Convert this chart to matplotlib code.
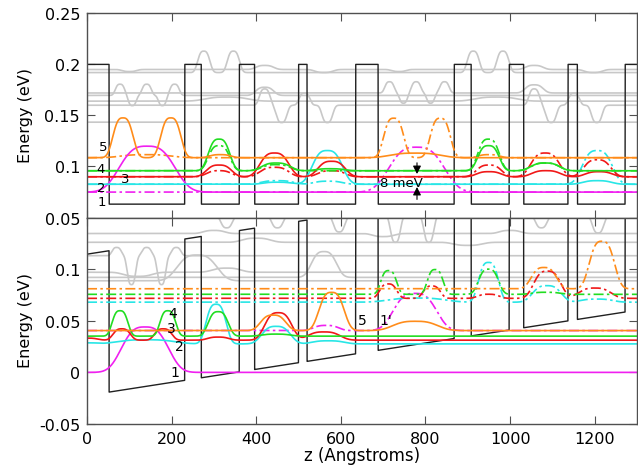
import numpy as np
import matplotlib.pyplot as plt

plt.rcParams['font.family'] = ['DejaVu Sans']

# ---- layer structure (Angstroms) ----
barriers = [(0, 52), (231, 270), (360, 396), (500, 520), (635, 688),
            (868, 908), (998, 1032), (1137, 1159), (1272, 1340)]
v_well = 0.0631
v_barrier = 0.2
bias_slope = 0.0405 / 637      # eV per Angstrom under bias
bias_offset = -0.0855

# ---- wavefunctions: (energy, [(z centre, height, half width), ...]) ----
# flat band (top panel)
top_solid = {
    '1': (0.0749, [(142, 0.045, 77)]),
    '2': (0.0826, [(568, 0.033, 42), (450, 0.002, 40), (1206, 0.0035, 40)]),
    '3': (0.0899, [(312, 0.0115, 35), (443, 0.0233, 40), (578, 0.0152, 38),
                   (950, 0.005, 35), (1085, 0.006, 40), (1210, 0.005, 38)]),
    '4': (0.0958, [(312, 0.031, 30), (447, 0.0076, 40), (575, 0.002, 40),
                   (949, 0.0246, 30), (1083, 0.0076, 40)]),
    '5': (0.1086, [(85, 0.039, 28), (198, 0.039, 28), (315, 0.003, 30),
                   (776, 0.0045, 70)]),
}
top_dash = {
    '1': (0.0749, [(779, 0.044, 77)]),
    '2': (0.0826, [(1206, 0.033, 42), (450, 0.0035, 45), (570, 0.003, 40)]),
    '3': (0.0899, [(312, 0.006, 35), (443, 0.0093, 40), (578, 0.006, 38),
                   (950, 0.0115, 35), (1083, 0.0233, 40), (1206, 0.0167, 38)]),
    '4': (0.0958, [(312, 0.0246, 30), (447, 0.006, 40), (949, 0.031, 30),
                   (1083, 0.0076, 40)]),
    '5': (0.1086, [(725, 0.0387, 28), (835, 0.0387, 28), (140, 0.003, 70),
                   (950, 0.003, 30)]),
}
top_gray = [
    (0.192, [(276, 0.021, 17), (346, 0.021, 17), (913, 0.021, 17), (983, 0.021, 17)]),
    (0.195, [(100, -0.002, 20), (420, 0.004, 25), (560, -0.003, 25),
             (737, -0.002, 20), (1057, 0.004, 25), (1197, -0.003, 25)]),
    (0.1696, [(78, 0.011, 13), (107, -0.010, 11), (141, 0.011, 13),
              (178, -0.010, 11), (207, 0.011, 13), (420, 0.008, 25)]),
    (0.172, [(715, 0.011, 13), (748, -0.010, 11), (778, 0.011, 13),
             (812, -0.010, 11), (845, 0.011, 13), (1057, 0.008, 25)]),
    (0.160, [(420, 0.016, 15), (460, -0.017, 15), (514, 0.012, 15), (568, -0.017, 15),
             (1057, 0.016, 15), (1097, -0.017, 15), (1151, 0.012, 15), (1205, -0.017, 15)]),
    (0.1434, []),
    (0.164, [(330, 0.004, 60), (967, 0.004, 60)]),
]

# biased (bottom panel)
bot_solid = {
    '1': (0.0, [(137, 0.044, 65)]),
    '2': (0.0276, [(0, 0.001, 30), (140, 0.004, 80), (305, 0.0384, 28),
                   (447, 0.017, 40), (570, 0.003, 45)]),
    '3': (0.0312, [(0, 0.002, 30), (82, 0.011, 24), (180, 0.011, 24), (310, 0.003, 30),
                   (452, 0.0266, 38), (560, 0.008, 45)]),
    '4': (0.0351, [(78, 0.0246, 22), (191, 0.0246, 22), (310, 0.0237, 28),
                   (447, 0.002, 40)]),
    '5': (0.0405, [(440, 0.015, 35), (578, 0.037, 35), (776, 0.009, 62)]),
}
bot_dash = {
    '1': (0.0405, [(565, 0.005, 35), (775, 0.036, 60)]),
    '2': (0.068, [(780, 0.004, 80), (949, 0.0385, 28), (1087, 0.016, 40),
                  (1205, 0.003, 45)]),
    '3': (0.0717, [(712, 0.014, 24), (815, 0.012, 24), (949, 0.004, 30),
                   (1088, 0.0264, 38), (1200, 0.010, 45)]),
    '4': (0.0756, [(713, 0.023, 22), (823, 0.024, 22), (949, 0.0244, 28),
                   (1085, 0.002, 40)]),
    '5': (0.081, [(1080, 0.0206, 35), (1217, 0.046, 35)]),
}
bot_gray = [
    (0.152, [(330, -0.012, 16), (450, -0.012, 16), (596, -0.016, 16), (729, -0.026, 14),
             (808, -0.026, 14), (1074, -0.012, 16), (1208, -0.017, 16)]),
    (0.1345, [(300, 0.003, 30), (700, -0.003, 30), (1000, 0.003, 30)]),
    (0.126, [(400, 0.004, 40), (900, -0.003, 40)]),
    (0.113, [(70, 0.008, 13), (105, -0.028, 12), (141, 0.008, 13),
             (176, -0.028, 12), (211, 0.008, 13)]),
    (0.097, [(120, -0.004, 40), (330, 0.004, 40)]),
    (0.092, [(560, 0.025, 35)]),
    (0.0887, [(260, 0.025, 55)]),
]

state_colors = {'1': '#f020f0', '2': '#28e6e6', '3': '#f01818',
                '4': '#22dd22', '5': '#ff8c1a'}

top_labels = [('5', 38, 0.1194), ('4', 31, 0.0982), ('3', 90, 0.0886),
              ('2', 34, 0.0795), ('1', 34, 0.0657)]
bot_labels = [('1', 207, 0.0), ('2', 219, 0.0253), ('3', 199, 0.0432),
              ('4', 203, 0.0578), ('5', 650, 0.0512), ("1'", 706, 0.0512)]

z = np.linspace(0, 1300, 5201)


def potential(biased):
    v = np.full_like(z, v_well)
    for a, b in barriers:
        v[(z >= a) & (z <= b)] = v_barrier
    if biased:
        v = v + bias_slope * z + bias_offset
    return v


def wave(level, bumps):
    y = np.full_like(z, level)
    for c, h, w in bumps:
        y += h * np.exp(-np.abs((z - c) / w) ** 3)
    return y


fig = plt.figure(figsize=(6.38, 4.77), dpi=100)
ax_top = fig.add_axes([0.1364, 0.5419, 0.862, 0.428])
ax_bot = fig.add_axes([0.1364, 0.109, 0.862, 0.4329])

dashdot = (0, (6, 2, 1.5, 2))

for ax, solid, dash, gray, biased in [(ax_top, top_solid, top_dash, top_gray, False),
                                       (ax_bot, bot_solid, bot_dash, bot_gray, True)]:
    for level, bumps in gray:
        ax.plot(z, wave(level, bumps), color='#c8c8c8', lw=1.2)
    ax.plot(z, potential(biased), color='#202020', lw=1.0)
    for key in ['1', '2', '3', '4', '5']:
        lv, bm = dash[key]
        ax.plot(z, wave(lv, bm), color=state_colors[key], lw=1.2, linestyle=dashdot)
    for key in ['1', '2', '3', '4', '5']:
        lv, bm = solid[key]
        ax.plot(z, wave(lv, bm), color=state_colors[key], lw=1.2)
    ax.set_xlim(0, 1300)
    ax.set_xticks(np.arange(0, 1300, 200))
    ax.tick_params(direction='in', top=True, right=True, length=6,
                   labelsize=11.5, color='#505050', pad=5)
    for s in ax.spines.values():
        s.set_color('#505050')
        s.set_linewidth(1.0)

ax_top.set_ylim(0.05, 0.25)
ax_top.set_yticks([0.05, 0.1, 0.15, 0.2, 0.25])
ax_top.set_yticklabels(['0.05', '0.1', '0.15', '0.2', '0.25'])
ax_top.set_xticklabels([])

ax_bot.set_ylim(-0.05, 0.15)
ax_bot.set_yticks([-0.05, 0, 0.05, 0.1])
ax_bot.set_yticklabels(['-0.05', '0', '0.05', '0.1'])
ax_bot.set_xticklabels([str(v) for v in range(0, 1300, 200)])

for t, zx, e in top_labels:
    ax_top.text(zx, e, t, fontsize=9.5, ha='center', va='center')
for t, zx, e in bot_labels:
    ax_bot.text(zx, e, t, fontsize=10, ha='center', va='center')

# 8 meV splitting marker
arrow = dict(arrowstyle='-|>', color='black', lw=0.8, mutation_scale=12)
ax_top.annotate('', xy=(780, top_solid['3'][0]), xytext=(780, 0.1063), arrowprops=arrow)
ax_top.annotate('', xy=(780, top_solid['2'][0]), xytext=(780, 0.0650), arrowprops=arrow)
ax_top.text(743, 0.0846, '8 meV', fontsize=9.5, ha='center', va='center')

fig.text(0.040, 0.757, 'Energy (eV)', rotation=90, fontsize=11.5, ha='center', va='center')
fig.text(0.040, 0.329, 'Energy (eV)', rotation=90, fontsize=11.5, ha='center', va='center')
fig.text(0.567, 0.044, 'z (Angstroms)', fontsize=12, ha='center', va='center')

fig.savefig('out.png', dpi=100)
